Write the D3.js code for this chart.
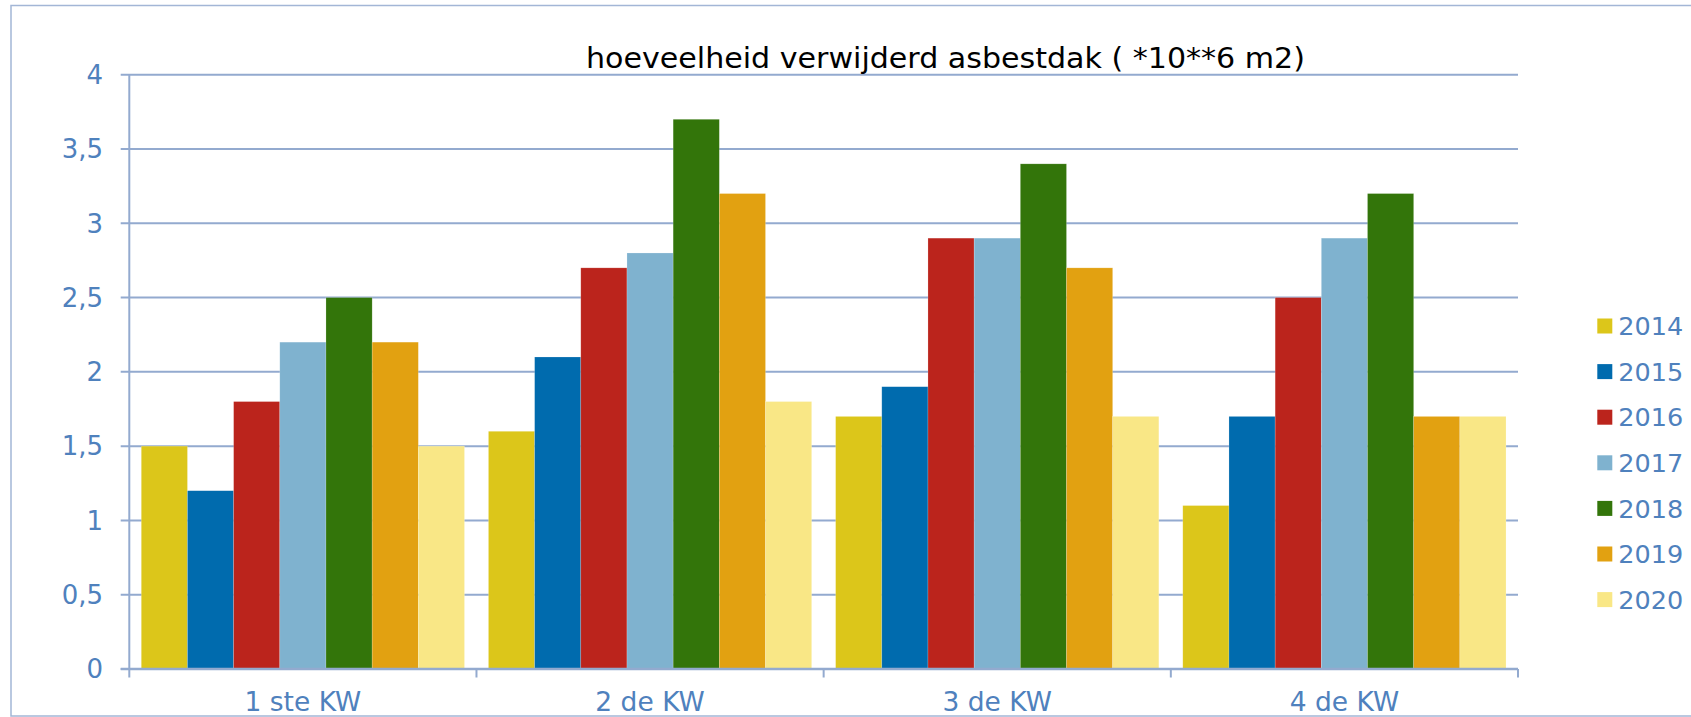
<!DOCTYPE html>
<html>
<head>
<meta charset="utf-8">
<script src="https://cdn.jsdelivr.net/npm/d3@7"></script>
<style>
  body { margin: 0; background: #fff; }
  svg { display: block; }
</style>
</head>
<body>
<svg width="1691" height="717"></svg>
<script>
var svg = d3.select('svg'),
  width = +svg.attr('width'),
  height = +svg.attr('height');

const quarters = ['1 ste KW', '2 de KW', '3 de KW', '4 de KW'];
const years = ['2014', '2015', '2016', '2017', '2018', '2019', '2020'];
const colors = ['#dcc61a', '#006bae', '#bb241c', '#7fb2cf', '#33750a', '#e2a111', '#f9e786'];
const values = [
  [1.5, 1.2, 1.8, 2.2, 2.5, 2.2, 1.5],
  [1.6, 2.1, 2.7, 2.8, 3.7, 3.2, 1.8],
  [1.7, 1.9, 2.9, 2.9, 3.4, 2.7, 1.7],
  [1.1, 1.7, 2.5, 2.9, 3.2, 1.7, 1.7]
];
const yTicks = [0, 0.5, 1, 1.5, 2, 2.5, 3, 3.5, 4];
const title = 'hoeveelheid verwijderd asbestdak ( *10**6 m2)';

const lineColor = '#93aacf';
const textColor = '#4f81bd';

// outer frame
svg.append('rect')
  .attr('x', 11)
  .attr('y', 5.5)
  .attr('width', 1700)
  .attr('height', 710.5)
  .style('fill', 'none')
  .style('stroke', '#a3b6d6')
  .style('stroke-width', 1.5);

var plot = { left: 129.3, right: 1518, top: 74.7, bottom: 669 };

var x0 = d3.scaleBand().domain(quarters).range([plot.left, plot.right]);
var x1 = d3.scaleBand()
  .domain(years)
  .range([x0.bandwidth() * 0.0345, x0.bandwidth() * 0.9655]);
var y = d3.scaleLinear().domain([0, 4]).range([plot.bottom, plot.top]);

// gridlines + y ticks
svg.append('g')
  .selectAll('line')
  .data(yTicks)
  .enter()
  .append('line')
  .attr('x1', plot.left - 8.6)
  .attr('x2', plot.right)
  .attr('y1', function(d) { return y(d); })
  .attr('y2', function(d) { return y(d); })
  .style('stroke', lineColor)
  .style('stroke-width', 2);

svg.append('g')
  .selectAll('text')
  .data(yTicks)
  .enter()
  .append('text')
  .attr('x', 103)
  .attr('y', function(d) { return y(d); })
  .attr('dy', '0.36em')
  .attr('text-anchor', 'end')
  .style('font-family', 'DejaVu Sans, Verdana, sans-serif')
  .style('font-size', '26px')
  .style('fill', textColor)
  .text(function(d) { return String(d).replace('.', ','); });

// bars
var groups = svg.append('g')
  .selectAll('g')
  .data(values)
  .enter()
  .append('g')
  .attr('transform', function(d, i) { return 'translate(' + x0(quarters[i]) + ',0)'; });

groups.selectAll('rect')
  .data(function(d) { return d; })
  .enter()
  .append('rect')
  .attr('x', function(d, i) { return x1(years[i]); })
  .attr('width', x1.bandwidth())
  .attr('y', function(d) { return y(d); })
  .attr('height', function(d) { return y(0) - y(d); })
  .style('fill', function(d, i) { return colors[i]; })
  .style('stroke', 'rgba(255,255,255,0.3)')
  .style('stroke-width', 0.6);

// y axis line
svg.append('line')
  .attr('x1', plot.left).attr('x2', plot.left)
  .attr('y1', plot.top).attr('y2', plot.bottom)
  .style('stroke', lineColor)
  .style('stroke-width', 2);

// x axis
var xAxis = svg.append('g');
xAxis.append('line')
  .attr('x1', plot.left - 8.6).attr('x2', plot.right)
  .attr('y1', plot.bottom).attr('y2', plot.bottom)
  .style('stroke', lineColor)
  .style('stroke-width', 2.5);

var bounds = quarters.map(function(q) { return x0(q); }).concat([plot.right]);
xAxis.selectAll('line.tick')
  .data(bounds)
  .enter()
  .append('line')
  .attr('class', 'tick')
  .attr('x1', function(d) { return d; })
  .attr('x2', function(d) { return d; })
  .attr('y1', plot.bottom)
  .attr('y2', plot.bottom + 8.5)
  .style('stroke', lineColor)
  .style('stroke-width', 2);

xAxis.selectAll('text')
  .data(quarters)
  .enter()
  .append('text')
  .attr('x', function(d) { return x0(d) + x0.bandwidth() / 2; })
  .attr('y', 711)
  .attr('text-anchor', 'middle')
  .style('font-family', 'DejaVu Sans, Verdana, sans-serif')
  .style('font-size', '26.5px')
  .style('fill', textColor)
  .text(function(d) { return d; });

// title
svg.append('text')
  .attr('x', 586)
  .attr('y', 68.3)
  .attr('textLength', 719)
  .attr('lengthAdjust', 'spacingAndGlyphs')
  .style('font-family', 'DejaVu Sans Condensed, DejaVu Sans, sans-serif')
  .style('font-size', '28.5px')
  .style('fill', '#000')
  .text(title);

// legend
var legend = svg.append('g')
  .selectAll('g')
  .data(years)
  .enter()
  .append('g')
  .attr('transform', function(d, i) { return 'translate(1597.3,' + (326 + i * 45.6) + ')'; });

legend.append('rect')
  .attr('x', 0)
  .attr('y', -7.5)
  .attr('width', 15)
  .attr('height', 15)
  .style('fill', function(d, i) { return colors[i]; });

legend.append('text')
  .attr('x', 21)
  .attr('y', 0)
  .attr('dy', '0.36em')
  .style('font-family', 'DejaVu Sans, Verdana, sans-serif')
  .style('font-size', '25.5px')
  .style('fill', textColor)
  .text(function(d) { return d; });
</script>
</body>
</html>
